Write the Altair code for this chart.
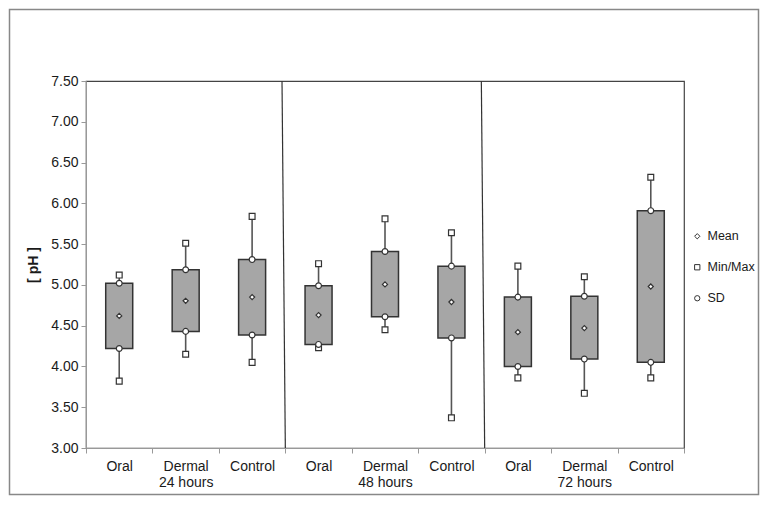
import json
import altair as alt
import pandas as pd

# ---------------- data ----------------
categories = ["Oral", "Dermal", "Control", "Oral", "Dermal", "Control", "Oral", "Dermal", "Control"]
period_labels = ["24 hours", "48 hours", "72 hours"]
min_vals = [3.82, 4.15, 4.05, 4.23, 4.45, 3.37, 3.86, 3.67, 3.86]
sd_low = [4.22, 4.43, 4.385, 4.27, 4.61, 4.35, 4.00, 4.09, 4.05]
means = [4.62, 4.805, 4.85, 4.63, 5.006, 4.79, 4.42, 4.47, 4.98]
sd_high = [5.02, 5.185, 5.31, 4.99, 5.41, 5.23, 4.85, 4.86, 5.91]
max_vals = [5.12, 5.51, 5.84, 5.26, 5.81, 5.64, 5.23, 5.10, 6.32]
divider_top = [2.95, 5.95]
divider_bottom = [3.0, 6.0]
y_ticks = [3.0, 3.5, 4.0, 4.5, 5.0, 5.5, 6.0, 6.5, 7.0, 7.5]
legend_items = ["Mean", "Min/Max", "SD"]
legend_shapes = ["diamond", "square", "circle"]

n = len(categories)
pos = [i + 0.5 for i in range(n)]

whisk_df = pd.DataFrame({"pos": pos, "val": min_vals, "val2": max_vals})
box_df = pd.DataFrame({"pos": pos, "val": sd_low, "val2": sd_high})
mean_df = pd.DataFrame({"pos": pos, "val": means, "type": ["Mean"] * n})
other_rows = []
for i in range(n):
    other_rows.append({"pos": pos[i], "val": min_vals[i], "type": "Min/Max"})
    other_rows.append({"pos": pos[i], "val": max_vals[i], "type": "Min/Max"})
    other_rows.append({"pos": pos[i], "val": sd_low[i], "type": "SD"})
    other_rows.append({"pos": pos[i], "val": sd_high[i], "type": "SD"})
other_df = pd.DataFrame(other_rows)
div_df = pd.DataFrame({
    "pos": divider_top, "pos2": divider_bottom,
    "val": [y_ticks[-1]] * len(divider_top), "val2": [y_ticks[0]] * len(divider_top),
})

label_lines = []
for i, c in enumerate(categories):
    if i % 3 == 1:
        label_lines.append([c, period_labels[i // 3]])
    else:
        label_lines.append([c])
label_lines.append([""])
label_expr = json.dumps(label_lines) + "[round(datum.value)]"

FONT = "Liberation Sans"
TXT = "#1a1a1a"

xs = alt.Scale(domain=[0, n], nice=False, zero=False, padding=0)
ys = alt.Scale(domain=[y_ticks[0], y_ticks[-1]], nice=False, zero=False, padding=0)

x_axis = alt.Axis(
    values=list(range(n + 1)), labelExpr=label_expr, labelOffset=33.2,
    labelOverlap=False, labelFlush=False, labelAlign="center",
    tickSize=5, tickColor="#999", domainColor="#999",
    labelFont=FONT, labelFontSize=14, labelColor=TXT, labelPadding=6,
    labelLineHeight=16, labelBaseline="top", grid=False, labelBound=False,
)
y_axis = alt.Axis(
    values=y_ticks, format=".2f", tickSize=5, tickColor="#999", domainColor="#999",
    labelFont=FONT, labelFontSize=14, labelColor=TXT, labelPadding=3, grid=False,
    titleFont=FONT, titleFontSize=14, titleFontWeight="bold", titleColor=TXT,
    titlePadding=10,
)

x_enc = alt.X("pos:Q", scale=xs, axis=x_axis, title=None)
y_enc = alt.Y("val:Q", scale=ys, axis=y_axis, title="[ pH ]")

shape_enc = alt.Shape(
    "type:N",
    scale=alt.Scale(domain=legend_items, range=legend_shapes),
    legend=alt.Legend(
        title=None, orient="none", legendX=605, legendY=149, padding=0,
        symbolSize=28, symbolStrokeWidth=1, labelFont=FONT, labelFontSize=12.5,
        labelColor=TXT, rowPadding=18, labelOffset=4,
    ),
)

W, H = 598, 367
PL, PT, PR, PB = 78, 73, 76, 48

frame = alt.Chart(pd.DataFrame({"a": [0]})).mark_rect(
    fill=None, stroke="#888", strokeWidth=1.5
).encode(
    x=alt.value(-PL + 1.5), x2=alt.value(W + PR - 1.5),
    y=alt.value(-PT + 1.5), y2=alt.value(H + PB - 1.5),
)

dividers = alt.Chart(div_df).mark_rule(color="#333", strokeWidth=1.2).encode(
    x=x_enc, x2="pos2:Q", y=y_enc, y2="val2:Q"
)

whiskers = alt.Chart(whisk_df).mark_rule(color="#555", strokeWidth=1.6).encode(
    x=x_enc, y=y_enc, y2="val2:Q"
)

boxes = alt.Chart(box_df).mark_bar(
    size=27, color="#a6a6a6", stroke="#333", strokeWidth=1.5
).encode(x=x_enc, y=y_enc, y2="val2:Q")

other_pts = alt.Chart(other_df).mark_point(
    filled=False, color="#333", fill="white", fillOpacity=1, strokeWidth=1.2,
    opacity=1, size=34
).encode(x=x_enc, y=y_enc, shape=shape_enc)

mean_pts = alt.Chart(mean_df).mark_point(
    filled=False, color="#333", fill="white", fillOpacity=1, strokeWidth=1.2,
    opacity=1, size=26
).encode(x=x_enc, y=y_enc, shape=shape_enc)

chart = alt.layer(frame, dividers, whiskers, boxes, other_pts, mean_pts).properties(
    width=W, height=H,
    padding={"left": PL, "top": PT, "right": PR, "bottom": PB},
    autosize=alt.AutoSizeParams(type="none"),
    background="white",
).configure_view(stroke="#444", strokeWidth=1.2)

chart.save("out.html", embed_options={"renderer": "svg", "actions": False})
